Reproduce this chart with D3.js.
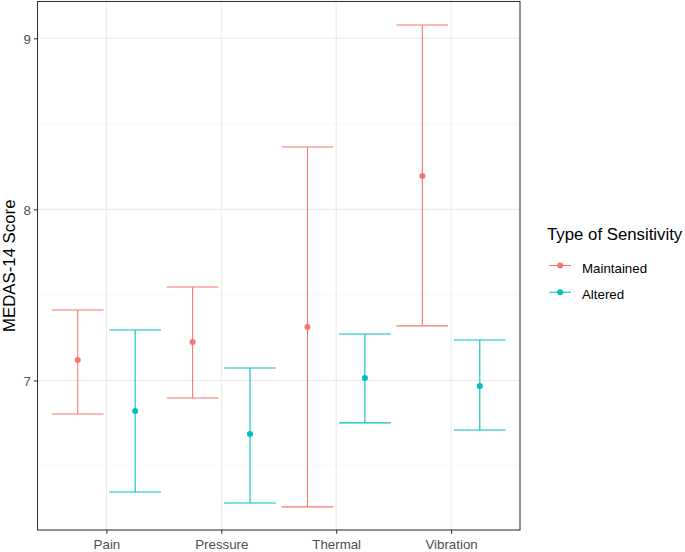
<!DOCTYPE html>
<html><head><meta charset="utf-8">
<script src="https://cdn.jsdelivr.net/npm/d3@7"></script>
<style>body{margin:0;background:#fff}svg{display:block;font-family:"Liberation Sans",Arial,sans-serif}</style>
</head><body><svg id="c" width="685" height="552"></svg>
<script>
const categories = ["Pain","Pressure","Thermal","Vibration"];
const groups = ["Maintained","Altered"];
const colors = ["#F8766D","#00BFC4"];
const meanMaintained = [7.12, 7.225, 7.313, 8.195];
const lowMaintained  = [6.804, 6.898, 6.261, 7.319];
const highMaintained = [7.412, 7.546, 8.365, 9.078];
const meanAltered = [6.822, 6.687, 7.015, 6.968];
const lowAltered  = [6.348, 6.284, 6.752, 6.711];
const highAltered = [7.295, 7.073, 7.272, 7.237];
const yTicks = [7, 8, 9];
const yMinor = [6.5, 7.5, 8.5];

const svg = d3.select("#c");
const L = 37.5, R = 520, T = 1.5, B = 530;
const x = d3.scaleLinear().domain([0.4, 4.6]).range([L, R]);
const y = d3.scaleLinear().domain([6.126, 9.215]).range([B, T]);

const data = [];
categories.forEach((c, i) => {
  data.push({cat: c, i: i, g: 0, m: meanMaintained[i], lo: lowMaintained[i], hi: highMaintained[i]});
  data.push({cat: c, i: i, g: 1, m: meanAltered[i], lo: lowAltered[i], hi: highAltered[i]});
});

// grid
const grid = svg.append("g");
yMinor.forEach(v => grid.append("line").attr("x1", L).attr("x2", R).attr("y1", y(v)).attr("y2", y(v)).attr("stroke", "#F2F2F2").attr("stroke-width", 0.55));
yTicks.forEach(v => grid.append("line").attr("x1", L).attr("x2", R).attr("y1", y(v)).attr("y2", y(v)).attr("stroke", "#EBEBEB").attr("stroke-width", 1.07));
categories.forEach((c, i) => grid.append("line").attr("x1", x(i+1)).attr("x2", x(i+1)).attr("y1", T).attr("y2", B).attr("stroke", "#EBEBEB").attr("stroke-width", 1.07));

// error bars
const dodge = 0.25, hw = 0.225;
const eb = svg.append("g");
data.forEach(d => {
  const cx = d.i + 1 + (d.g === 0 ? -dodge : dodge);
  const col = colors[d.g];
  eb.append("line").attr("x1", x(cx)).attr("x2", x(cx)).attr("y1", y(d.lo)).attr("y2", y(d.hi)).attr("stroke", col).attr("stroke-width", 1.07);
  eb.append("line").attr("x1", x(cx - hw)).attr("x2", x(cx + hw)).attr("y1", y(d.lo)).attr("y2", y(d.lo)).attr("stroke", col).attr("stroke-width", 1.07);
  eb.append("line").attr("x1", x(cx - hw)).attr("x2", x(cx + hw)).attr("y1", y(d.hi)).attr("y2", y(d.hi)).attr("stroke", col).attr("stroke-width", 1.07);
  eb.append("circle").attr("cx", x(cx)).attr("cy", y(d.m)).attr("r", 3).attr("fill", col);
});

// panel border
svg.append("rect").attr("x", L).attr("y", T).attr("width", R - L).attr("height", B - T).attr("fill", "none").attr("stroke", "#333333").attr("stroke-width", 1.07);

// axes
const yAxis = svg.append("g").attr("transform", `translate(${L},0)`)
  .call(d3.axisLeft(y).tickValues(yTicks).tickFormat(d3.format("d")).tickSize(3.7).tickPadding(2.9));
const xAxis = svg.append("g").attr("transform", `translate(0,${B})`)
  .call(d3.axisBottom(x).tickValues([1,2,3,4]).tickFormat((d) => categories[d-1]).tickSize(3.7));
[yAxis, xAxis].forEach(a => {
  a.select(".domain").remove();
  a.selectAll("line").attr("stroke", "#333333").attr("stroke-width", 1.07);
  a.selectAll("text").attr("fill", "#4D4D4D").style("font-size", "13.3px").style("font-family", "Liberation Sans, Arial, sans-serif");
});
yAxis.selectAll("text").attr("dy", "0.36em");
xAxis.selectAll("text").attr("y", 19.2).attr("dy", null);

svg.append("text").attr("transform", `translate(14.5,${(T + B) / 2}) rotate(-90)`)
  .attr("text-anchor", "middle").style("font-size", "16.8px").attr("fill", "#000").text("MEDAS-14 Score");

// legend
const lg = svg.append("g");
lg.append("text").attr("x", 547).attr("y", 240).style("font-size", "16.8px").attr("fill", "#000").text("Type of Sensitivity");
groups.forEach((g, k) => {
  const cy = 265.5 + k * 26.7;
  lg.append("line").attr("x1", 549.5).attr("x2", 571).attr("y1", cy).attr("y2", cy).attr("stroke", colors[k]).attr("stroke-width", 1.07);
  lg.append("circle").attr("cx", 560.2).attr("cy", cy).attr("r", 3).attr("fill", colors[k]);
  lg.append("text").attr("x", 582).attr("y", cy + 7).style("font-size", "13.3px").attr("fill", "#000").text(g);
});
</script></body></html>
